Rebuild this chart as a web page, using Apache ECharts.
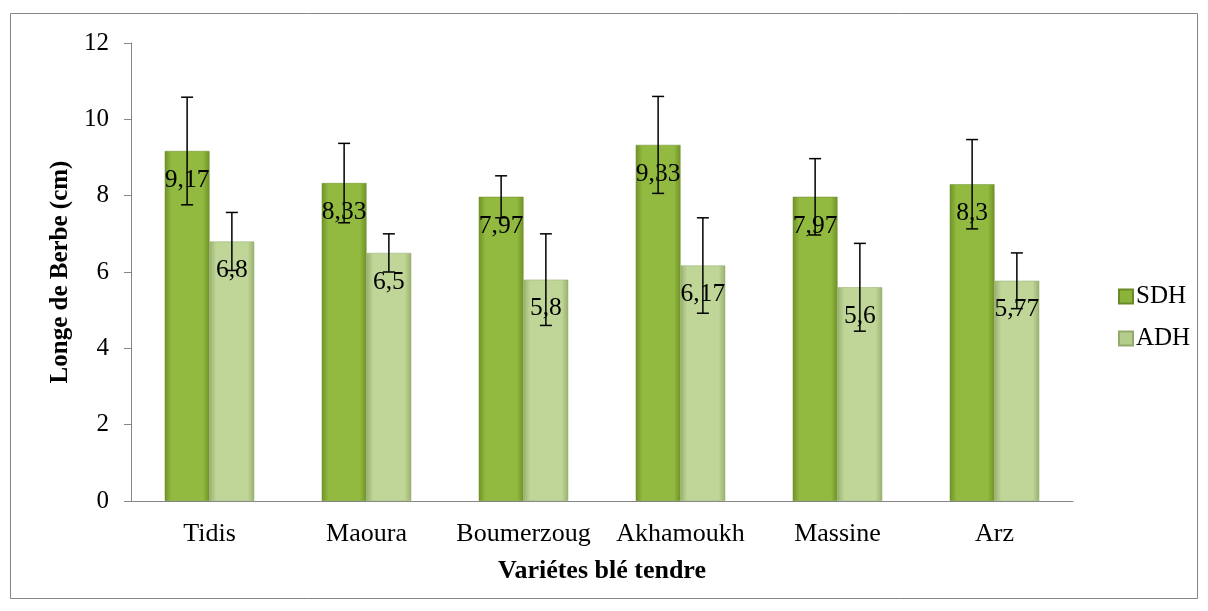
<!DOCTYPE html>
<html>
<head>
<meta charset="utf-8">
<script src="https://cdn.jsdelivr.net/npm/echarts@6/dist/echarts.min.js"></script>
<style>html,body{margin:0;padding:0;background:#fff;}#c{width:1208px;height:611px;}</style>
</head>
<body>
<div id="c"></div>
<script>
var categories = ['Tidis', 'Maoura', 'Boumerzoug', 'Akhamoukh', 'Massine', 'Arz'];
var sdh = [9.17, 8.33, 7.97, 9.33, 7.97, 8.3];
var adh = [6.8, 6.5, 5.8, 6.17, 5.6, 5.77];
var sdhErr = [1.41, 1.04, 0.55, 1.27, 1.0, 1.17];
var adhErr = [0.76, 0.5, 1.2, 1.25, 1.15, 0.73];
var yTicks = [0, 2, 4, 6, 8, 10, 12];

var FONT = '"Liberation Serif", "Times New Roman", serif';
var CAT_GAP = 0.43;

function fmt(v) { return String(v).replace('.', ','); }

function grad(dark, light) {
  return new echarts.graphic.LinearGradient(0, 0, 1, 0, [
    {offset: 0, color: dark},
    {offset: 0.15, color: light},
    {offset: 0.5, color: light},
    {offset: 0.85, color: light},
    {offset: 1, color: dark}
  ]);
}

function errSeries(name, vals, errs, side) {
  var data = vals.map(function (v, i) { return [i, v - errs[i], v + errs[i]]; });
  return {
    type: 'custom',
    name: name + '_err',
    z: 10,
    silent: true,
    data: data,
    renderItem: function (params, api) {
      var band = api.size([1, 0])[0];
      var bw = band * (1 - CAT_GAP) / 2;
      var cx = api.coord([api.value(0), 0])[0] + side * bw / 2;
      var lo = api.coord([api.value(0), api.value(1)])[1];
      var hi = api.coord([api.value(0), api.value(2)])[1];
      var cap = 6;
      var st = {stroke: '#000', lineWidth: 1.5};
      return {
        type: 'group',
        children: [
          {type: 'line', shape: {x1: cx, y1: lo, x2: cx, y2: hi}, style: st},
          {type: 'line', shape: {x1: cx - cap, y1: hi, x2: cx + cap, y2: hi}, style: st},
          {type: 'line', shape: {x1: cx - cap, y1: lo, x2: cx + cap, y2: lo}, style: st}
        ]
      };
    }
  };
}

var chart = echarts.init(document.getElementById('c'));
chart.setOption({
  backgroundColor: '#fff',
  animation: false,
  textStyle: {fontFamily: FONT},
  graphic: [{
    type: 'rect',
    shape: {x: 10.5, y: 13.5, width: 1187, height: 585},
    style: {fill: 'none', stroke: '#868686', lineWidth: 1},
    silent: true, z: -1
  }],
  grid: {left: 131, right: 135, top: 43, bottom: 110},
  legend: {
    orient: 'vertical',
    left: 1113,
    top: 279,
    itemWidth: 14,
    itemHeight: 14,
    itemGap: 17,
    textStyle: {fontFamily: FONT, fontSize: 25, color: '#000', padding: [0, 0, 0, -2]},
    data: [
      {name: 'SDH', icon: 'rect', itemStyle: {color: '#8bb33a'}},
      {name: 'ADH', icon: 'rect', itemStyle: {color: '#b5cd8c'}}
    ]
  },
  xAxis: {
    type: 'category',
    data: categories,
    name: 'Variétes blé tendre',
    nameLocation: 'middle',
    nameGap: 57,
    nameTextStyle: {fontFamily: FONT, fontSize: 26, fontWeight: 'bold', color: '#000'},
    axisLine: {lineStyle: {color: '#868686', width: 1}},
    axisTick: {length: 7, lineStyle: {color: '#868686'}},
    axisLabel: {fontFamily: FONT, fontSize: 26, color: '#000', margin: 20, interval: 0, hideOverlap: false}
  },
  yAxis: {
    type: 'value',
    min: 0, max: 12, interval: 2,
    name: 'Longe de Berbe (cm)',
    nameLocation: 'middle',
    nameGap: 57,
    nameRotate: 90,
    nameTextStyle: {fontFamily: FONT, fontSize: 25, fontWeight: 'bold', color: '#000'},
    axisLine: {show: true, lineStyle: {color: '#868686', width: 1}},
    axisTick: {show: true, length: 7, lineStyle: {color: '#868686'}},
    splitLine: {show: false},
    axisLabel: {
      fontFamily: FONT, fontSize: 25, color: '#000', margin: 22,
      formatter: function (v) { return yTicks.indexOf(v) >= 0 ? String(v) : ''; }
    }
  },
  series: [
    {
      name: 'SDH', type: 'bar', data: sdh,
      barGap: '0%', barCategoryGap: (CAT_GAP * 100) + '%',
      itemStyle: {color: grad('#6f9226', '#92ba40'), borderColor: '#6a8a2a', borderWidth: 0.5},
      label: {
        show: true, position: 'insideTop', distance: 16,
        fontFamily: FONT, fontSize: 25.5, color: '#000',
        formatter: function (p) { return fmt(p.value); }
      }
    },
    {
      name: 'ADH', type: 'bar', data: adh,
      itemStyle: {color: grad('#9ab06e', '#bfd698'), borderColor: '#93aa6a', borderWidth: 0.5},
      label: {
        show: true, position: 'insideTop', distance: 16,
        fontFamily: FONT, fontSize: 25.5, color: '#000',
        formatter: function (p) { return fmt(p.value); }
      }
    },
    errSeries('SDH', sdh, sdhErr, -1),
    errSeries('ADH', adh, adhErr, 1)
  ]
});
</script>
</body>
</html>
